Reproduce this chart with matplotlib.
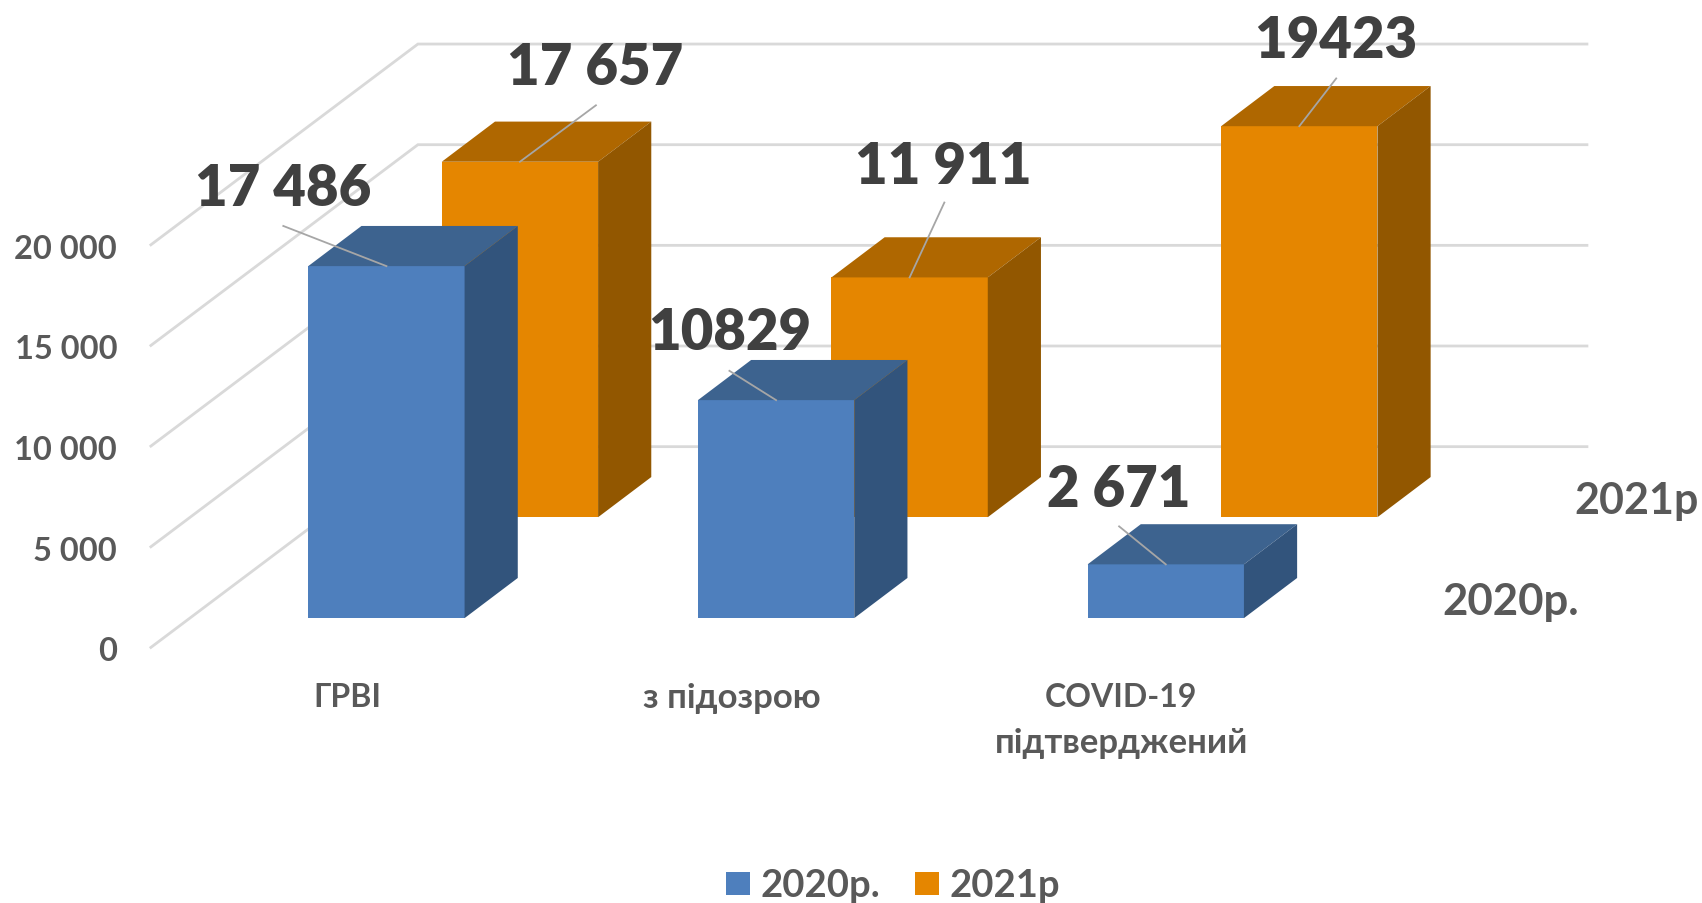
import matplotlib
matplotlib.use("Agg")
import matplotlib.pyplot as plt
from matplotlib.patches import Polygon

categories = ["ГРВІ", "з підозрою", "COVID-19\nпідтверджений"]
values_2020 = [17486, 10829, 2671]
values_2021 = [17657, 11911, 19423]
labels_2020 = ["17 486", "10829", "2 671"]
labels_2021 = ["17 657", "11 911", "19423"]
y_ticks = [0, 5000, 10000, 15000, 20000]
y_tick_labels = ["0", "5 000", "10 000", "15 000", "20 000"]
series_names = ["2020р.", "2021р"]

plt.rcParams["font.family"] = ["Lato", "Noto Sans", "DejaVu Sans"]
plt.rcParams["font.weight"] = "bold"

W, H = 1702, 904
fig = plt.figure(figsize=(W / 100, H / 100), dpi=100)
ax = fig.add_axes([0, 0, 1, 1])

SPACING = 359.0                    # view px per category
PER_UNIT = 0.01855                 # view px per value unit
BASE_PX, CAT0_PX = 570.5, 356.0
ax.set_xlim(-CAT0_PX / SPACING, (1568 - CAT0_PX) / SPACING)
ax.set_ylim(-(833 - BASE_PX) / PER_UNIT, BASE_PX / PER_UNIT)
ax.axis("off")


def vx(px):
    return (px - CAT0_PX) / SPACING


def vy(px):
    return (BASE_PX - px) / PER_UNIT


BAR_W = 144 / SPACING
DX, DY = 49 / SPACING, 37 / PER_UNIT            # depth of one bar
ROW_DX, ROW_DY = 123 / SPACING, 93 / PER_UNIT   # front row to back row
WALL_DY = -27 / PER_UNIT                        # front row to chart front corner

# walls and gridlines
WALL_C = "#D9D9D9"
x_front = vx(139)
x_back = vx(385)
x_end = vx(1462)
back_shift = 185 / PER_UNIT
for t in y_ticks:
    y0 = t + WALL_DY
    ax.plot([x_front, x_back, x_end], [y0, y0 + back_shift, y0 + back_shift],
            color=WALL_C, lw=2.0, zorder=1, solid_joinstyle="miter")


def box(x, v, base, front, top, side, z):
    l, r = x - BAR_W / 2, x + BAR_W / 2
    ax.bar(x, v, BAR_W, bottom=base, color=front, zorder=z, lw=0)
    y = base + v
    ax.add_patch(Polygon([(l, y), (r, y), (r + DX, y + DY), (l + DX, y + DY)],
                         fc=top, ec="none", zorder=z))
    ax.add_patch(Polygon([(r, base), (r, y), (r + DX, y + DY), (r + DX, base + DY)],
                         fc=side, ec="none", zorder=z))


for i in range(3):
    box(i + ROW_DX, values_2021[i], ROW_DY, "#E58600", "#AF6700", "#925700", 2)
for i in range(3):
    box(i, values_2020[i], 0, "#4E7FBD", "#3D638F", "#32547C", 3)

# data labels with leader lines
LBL = "#404040"
LEAD = "#A6A6A6"
lab20_off = [(-95, 72, -95, 37), (-43, 63, -43, 27), (-43, 69, -43, 35)]
lab21_off = [(69, 87, 70, 52), (31, 103, 32, 69), (34, 79, 34, 44)]
for i in range(3):
    tx, ty, lx, ly = lab20_off[i]
    x, y = i, values_2020[i]
    ax.plot([x, x + lx / SPACING], [y, y + ly / PER_UNIT], color=LEAD, lw=1.3, zorder=5)
    ax.text(x + tx / SPACING, y + ty / PER_UNIT, labels_2020[i],
            ha="center", va="center", fontsize=40.5, color=LBL, zorder=6, weight="heavy")
    tx, ty, lx, ly = lab21_off[i]
    x, y = i + ROW_DX, values_2021[i] + ROW_DY
    ax.plot([x, x + lx / SPACING], [y, y + ly / PER_UNIT], color=LEAD, lw=1.3, zorder=5)
    ax.text(x + tx / SPACING, y + ty / PER_UNIT, labels_2021[i],
            ha="center", va="center", fontsize=40.5, color=LBL, zorder=6, weight="heavy")

# value axis labels
GREY = "#595959"
TICK_RAISE = -3 / PER_UNIT
for t, s in zip(y_ticks, y_tick_labels):
    ax.text(vx(108), t + WALL_DY + TICK_RAISE, s, ha="right", va="center",
            fontsize=23.5, color=GREY)

# category labels
ax.text(vx(320), vy(643), categories[0], ha="center", va="center", fontsize=23, color=GREY)
ax.text(vx(674), vy(643), categories[1], ha="center", va="center", fontsize=25, color=GREY)
line1, line2 = categories[2].split("\n")
ax.text(vx(1033), vy(643), line1, ha="center", va="center", fontsize=23, color=GREY)
ax.text(vx(1033), vy(685), line2, ha="center", va="center", fontsize=25, color=GREY)

# depth axis labels
ax.text(vx(1392), vy(555), series_names[0], ha="center", va="center", fontsize=31.5, color=GREY)
ax.text(vx(1508), vy(462), series_names[1], ha="center", va="center", fontsize=31, color=GREY)

# legend
leg_y = vy(815)
sq = 22 / SPACING
for px, col, tx, name in [(680, "#4E7FBD", 701, series_names[0]),
                          (854, "#E58600", 875, series_names[1])]:
    ax.bar(vx(px), 22 / PER_UNIT, sq, bottom=leg_y - 11 / PER_UNIT,
           color=col, lw=0, zorder=2)
    ax.text(vx(tx), leg_y + 1 / PER_UNIT * -1, name, ha="left", va="center",
            fontsize=27.5, color=GREY)

fig.savefig("out.png", dpi=100)
